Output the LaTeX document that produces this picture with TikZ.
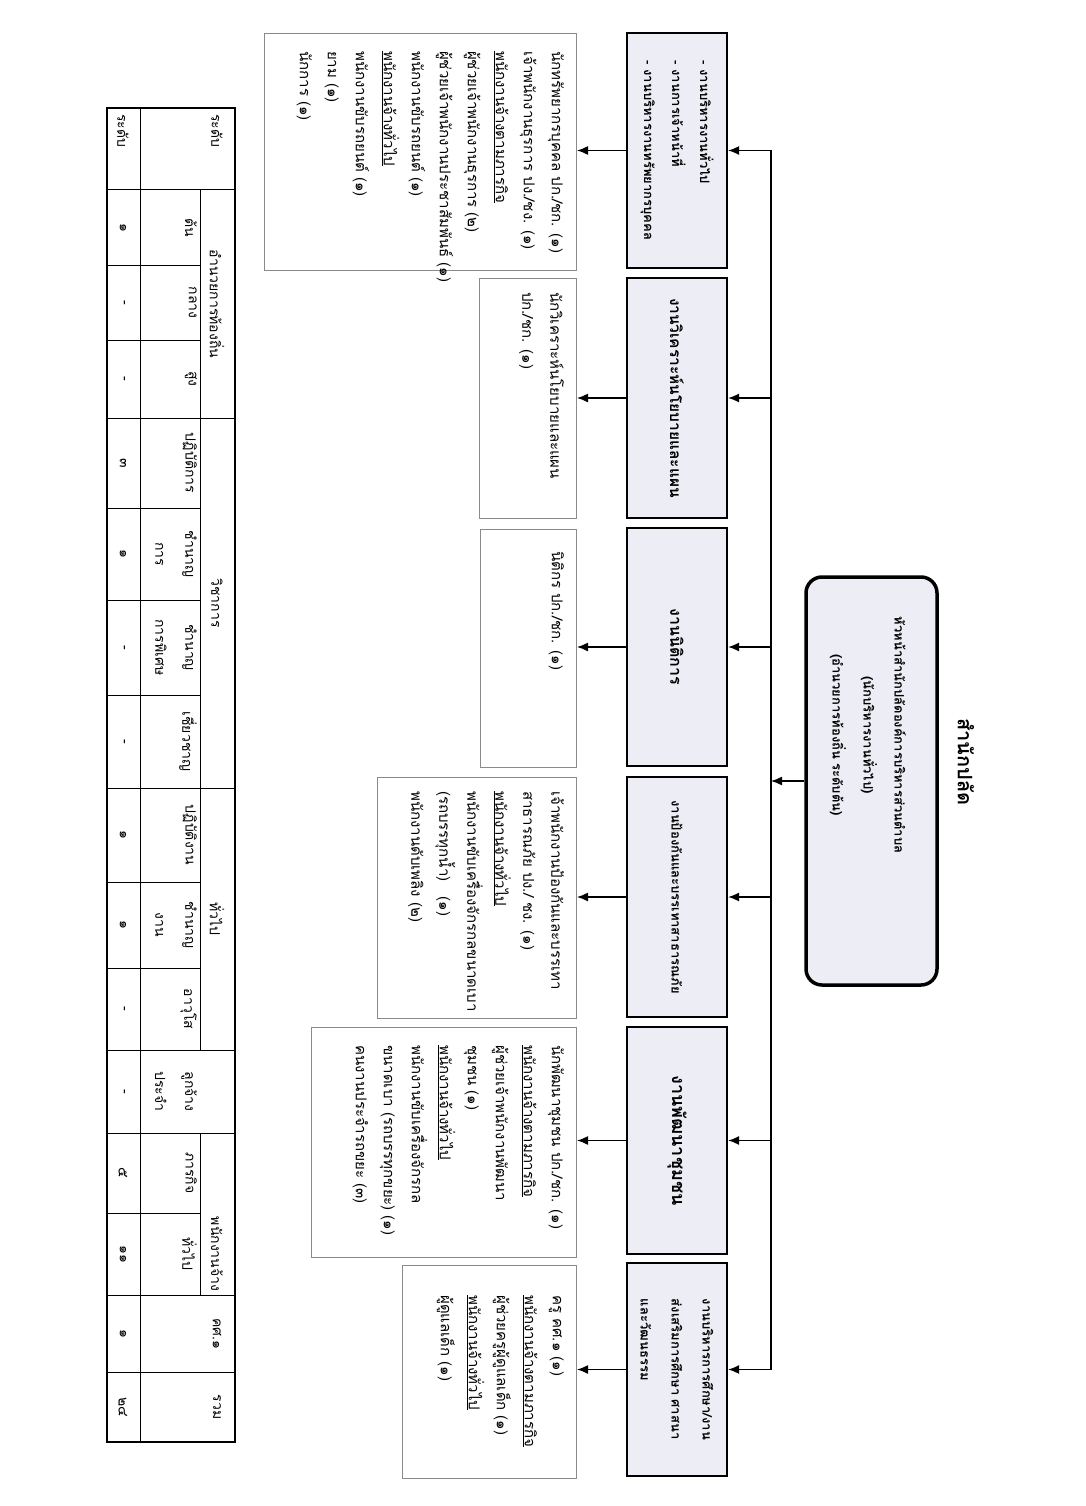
\documentclass[tikz,border=0pt]{standalone}
\usepackage{fontspec}
\setmainfont[Script=Thai]{Loma}
\usetikzlibrary{arrows.meta,positioning}
\definecolor{boxfill}{HTML}{EDEDF6}
\definecolor{framegray}{HTML}{8A8A8A}
\newcommand{\fs}[2]{\fontsize{#1}{#2}\selectfont}

\begin{document}
\begin{tikzpicture}[x=1pt,y=1pt,
  headbox/.style={draw,line width=3.5pt,rounded corners=16pt,fill=boxfill,minimum width=408pt,minimum height=131pt,inner sep=0pt},
  deptbox/.style={draw,line width=2.2pt,fill=boxfill,minimum height=100pt,inner sep=0pt,align=left},
  listbox/.style={draw=framegray,line width=0.8pt,anchor=north west,inner sep=0pt},
  listtext/.style={anchor=north west,align=left,inner sep=0pt,font=\fs{15}{28}},
  arr/.style={-{Latex[length=11pt,width=9pt]},line width=1.4pt},
  cell/.style={inner sep=0pt,align=center,font=\fs{14}{30}}]
\begin{scope}[rotate=-90,transform shape]
  \useasboundingbox (0,0) rectangle (1506,1086);
  % title and head
  \node[font=\fs{20}{24}\bfseries] (title) at (762,966) {สำนักปลัด};
  \node[headbox] (head) at (781,871.5) {};
  \node[align=center,inner sep=0pt,font=\fs{13}{31}\bfseries] (headtext) at (735,868)
    {หัวหน้าสำนักปลัดองค์การบริหารส่วนตำบล\\(นักบริหารงานทั่วไป)\\(อำนวยการท้องถิ่น ระดับต้น)};
  \coordinate (bus) at (0,771);
  % departments
  \node[deptbox,minimum width=235pt,font=\fs{13}{28}\bfseries] (dAdmin) at (150.5,677)
    {- งานบริหารงานทั่วไป\\- งานการเจ้าหน้าที่\\- งานบริหารงานทรัพยากรบุคคล};
  \node[deptbox,minimum width=240pt,font=\fs{15.5}{28}\bfseries] (dPlan) at (398,677) {งานวิเคราะห์นโยบายและแผน};
  \node[deptbox,minimum width=238pt,font=\fs{16}{28}\bfseries] (dLaw) at (647,677) {งานนิติการ};
  \node[deptbox,minimum width=240pt,font=\fs{13}{28}\bfseries] (dSafe) at (897,677) {งานป้องกันและบรรเทาสาธารณภัย};
  \node[deptbox,minimum width=227pt,font=\fs{18}{28}\bfseries] (dComm) at (1140.5,677) {งานพัฒนาชุมชน};
  \node[deptbox,minimum width=213pt,font=\fs{13}{31}\bfseries] (dEdu) at (1369.5,677)
    {งานบริหารการศึกษา/งาน\\ส่งเสริมการศึกษา ศาสนา\\และวัฒนธรรม};
  % staff lists
  \node[listbox,minimum width=237pt,minimum height=312pt] (lAdmin) at (33,577) {};
  \node[listbox,minimum width=240pt,minimum height=97pt] (lPlan) at (278,577) {};
  \node[listbox,minimum width=238pt,minimum height=96pt] (lLaw) at (529,577) {};
  \node[listbox,minimum width=241pt,minimum height=199pt] (lSafe) at (777,577) {};
  \node[listbox,minimum width=230pt,minimum height=265pt] (lComm) at (1027,577) {};
  \node[listbox,minimum width=213pt,minimum height=174pt] (lEdu) at (1265,577) {};
  \node[listtext] (tAdmin) at ([shift={(18,-13)}]lAdmin.north west)
    {นักทรัพยากรบุคคล ปก./ชก. (๑)\\เจ้าพนักงานธุรการ ปง./ชง. (๑)\\\underline{พนักงานจ้างตามภารกิจ}\\ผู้ช่วยเจ้าพนักงานธุรการ (๒)\\ผู้ช่วยเจ้าพนักงานประชาสัมพันธ์ (๑)\\พนักงานขับรถยนต์ (๑)\\\underline{พนักงานจ้างทั่วไป}\\พนักงานขับรถยนต์ (๑)\\ยาม (๑)\\นักการ (๑)};
  \node[listtext] (tPlan) at ([shift={(14,-13)}]lPlan.north west)
    {นักวิเคราะห์นโยบายและแผน\\ปก./ชก. (๑)};
  \node[listtext] (tLaw) at ([shift={(22,-13)}]lLaw.north west) {นิติกร ปก./ชก. (๑)};
  \node[listtext] (tSafe) at ([shift={(14,-13)}]lSafe.north west)
    {เจ้าพนักงานป้องกันและบรรเทา\\สาธารณภัย ปง./ ชง. (๑)\\\underline{พนักงานจ้างทั่วไป}\\พนักงานขับเครื่องจักรกลขนาดเบา\\(รถบรรทุกน้ำ)\quad(๑)\\พนักงานดับเพลิง (๒)};
  \node[listtext] (tComm) at ([shift={(18,-13)}]lComm.north west)
    {นักพัฒนาชุมชน ปก./ชก. (๑)\\\underline{พนักงานจ้างตามภารกิจ}\\ผู้ช่วยเจ้าพนักงานพัฒนา\\ชุมชน (๑)\\\underline{พนักงานจ้างทั่วไป}\\พนักงานขับเครื่องจักรกล\\ขนาดเบา (รถบรรทุกขยะ) (๑)\\คนงานประจำรถขยะ (๓)};
  \node[listtext] (tEdu) at ([shift={(30,-13)}]lEdu.north west)
    {ครู คศ.๑ (๑)\\\underline{พนักงานจ้างตามภารกิจ}\\ผู้ช่วยครูผู้ดูแลเด็ก (๑)\\\underline{พนักงานจ้างทั่วไป}\\ผู้ดูแลเด็ก (๑)};
  % connectors
  \draw[line width=1.4pt] (dAdmin.north |- bus) -- (dEdu.north |- bus);
  \draw[arr] (head.south) -- (head.south |- bus);
  \foreach \d/\l in {dAdmin/lAdmin,dPlan/lPlan,dLaw/lLaw,dSafe/lSafe,dComm/lComm,dEdu/lEdu}{
    \draw[arr] (\d.north |- bus) -- (\d.north);
    \draw[arr] (\d.south) -- (\d.south |- \l.north);
  }
  % summary table
  \draw[line width=1.6pt] (108,107) rectangle (1442,235);
  \draw[line width=1pt] (108,140) -- (1442,140);
  \draw[line width=1pt] (190,200) -- (1050,200) (1133,200) -- (1295,200);
  \foreach \c in {190,418,788,1050,1133,1295,1372}
    \draw[line width=1pt] (\c,107) -- (\c,235);
  \foreach \c in {265,340,508,600,695,882,968,1213}
    \draw[line width=1pt] (\c,107) -- (\c,200);
  \node[cell,anchor=west] (hLevel) at (114,217) {ระดับ};
  \node[cell] (hExec) at (304,217) {อำนวยการท้องถิ่น};
  \node[cell] (hAcad) at (603,217) {วิชาการ};
  \node[cell] (hGen) at (919,217) {ทั่วไป};
  \node[cell] (hEmp) at (1254,217) {พนักงานจ้าง};
  \node[cell] (hTeach) at (1333.5,217) {คศ.๑};
  \node[cell] (hSum) at (1407,217) {รวม};
  \foreach \x/\t [count=\i] in {227.5/ต้น,302.5/กลาง,379/สูง,463/ปฏิบัติการ,554/ชำนาญ\\การ,647.5/ชำนาญ\\การพิเศษ,741.5/เชี่ยวชาญ,835/ปฏิบัติงาน,925/ชำนาญ\\งาน,1009/อาวุโส,1091.5/ลูกจ้าง\\ประจำ,1173/ภารกิจ,1254/ทั่วไป}
    \node[cell,anchor=north] (r\i) at (\x,197) {\t};
  \node[cell,anchor=west] (vLevel) at (114,123) {ระดับ};
  \foreach \x/\t [count=\i] in {227.5/๑,302.5/-,379/-,463/๓,554/๑,647.5/-,741.5/-,835/๑,925/๑,1009/-,1091.5/-,1173/๕,1254/๑๑,1333.5/๑,1407/๒๔}
    \node[cell] (v\i) at (\x,123) {\t};
\end{scope}
\end{tikzpicture}
\end{document}
